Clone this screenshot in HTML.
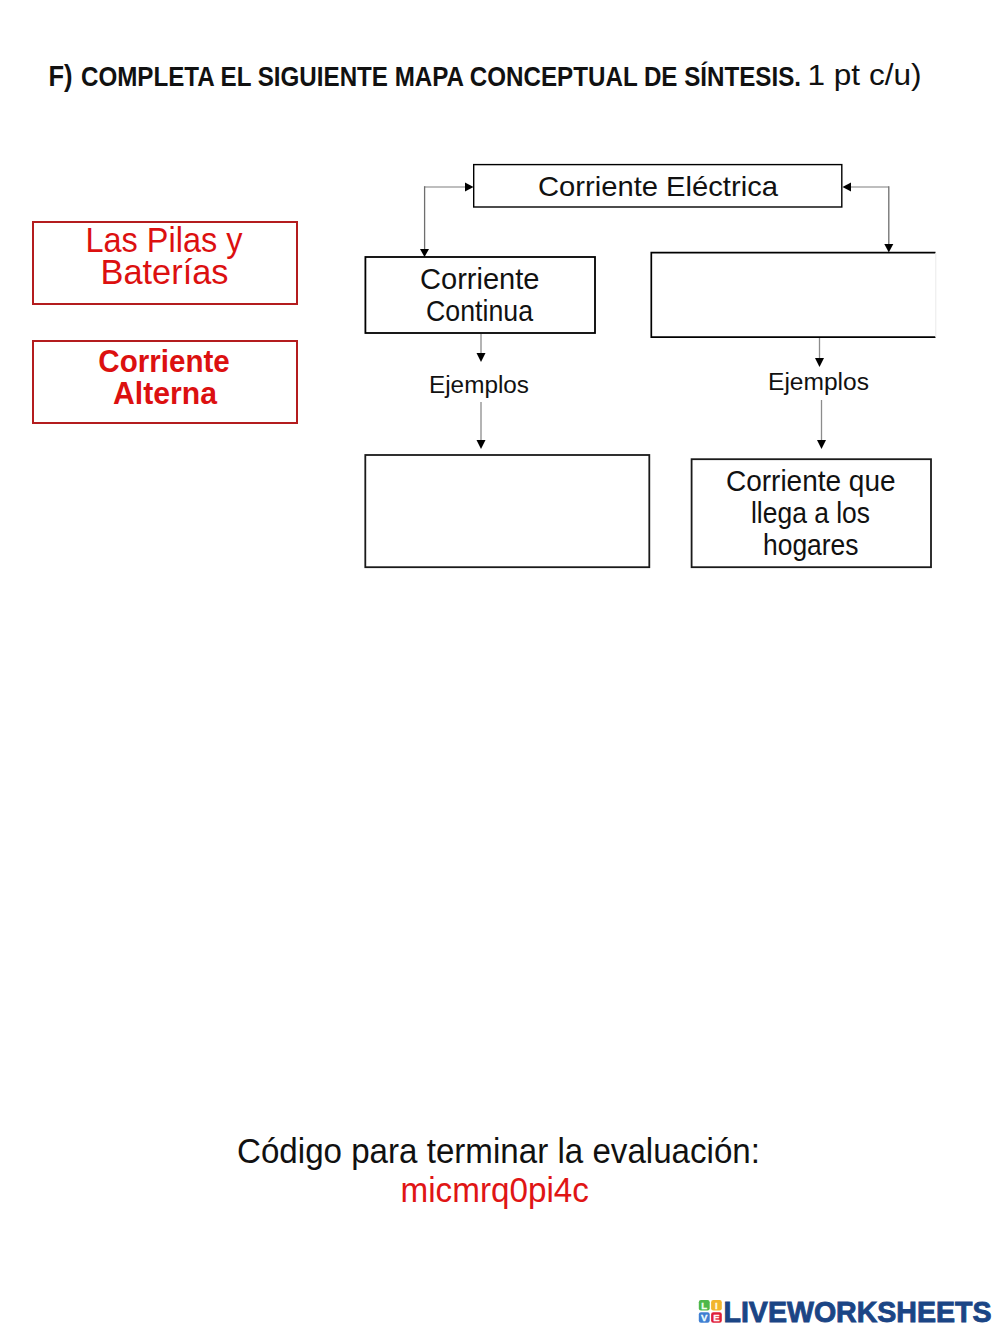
<!DOCTYPE html>
<html>
<head>
<meta charset="utf-8">
<style>
html,body{margin:0;padding:0;background:#fff;width:1000px;height:1332px;overflow:hidden;}
svg{display:block;position:absolute;left:0;top:0;}
text{font-family:"Liberation Sans",sans-serif;}
</style>
</head>
<body>
<svg width="1000" height="1332" viewBox="0 0 1000 1332">
  <!-- Title -->
  <text x="48.5" y="85.5" font-size="30" font-weight="bold" fill="#111" textLength="24" lengthAdjust="spacingAndGlyphs">F)</text>
  <text x="81" y="85.7" font-size="27.5" font-weight="bold" fill="#111" textLength="720" lengthAdjust="spacingAndGlyphs">COMPLETA EL SIGUIENTE MAPA CONCEPTUAL DE SÍNTESIS.</text>
  <text x="807.5" y="85.2" font-size="28.6" fill="#111" textLength="114" lengthAdjust="spacingAndGlyphs">1 pt c/u)</text>

  <!-- Red boxes -->
  <rect x="33" y="222" width="264" height="82" fill="none" stroke="#b41c1e" stroke-width="2"/>
  <rect x="33" y="341" width="264" height="82" fill="none" stroke="#b41c1e" stroke-width="2"/>
  <text x="85.5" y="252.4" font-size="35" fill="#dc1010" textLength="157" lengthAdjust="spacingAndGlyphs">Las Pilas y</text>
  <text x="100.5" y="284" font-size="35" fill="#dc1010" textLength="128" lengthAdjust="spacingAndGlyphs">Baterías</text>
  <text x="98.3" y="372" font-size="30.5" font-weight="bold" fill="#dc1010" textLength="131.5" lengthAdjust="spacingAndGlyphs">Corriente</text>
  <text x="113" y="403.9" font-size="30.5" font-weight="bold" fill="#dc1010" textLength="104" lengthAdjust="spacingAndGlyphs">Alterna</text>

  <!-- Diagram boxes -->
  <rect x="473.7" y="164.6" width="368.1" height="42.4" fill="none" stroke="#000" stroke-width="1.4"/>
  <rect x="365.4" y="257" width="229.6" height="76" fill="none" stroke="#000" stroke-width="1.8"/>
  <path d="M935.5 252.6 H651.3 V337.2 H935.5" fill="none" stroke="#000" stroke-width="1.7"/>
  <line x1="935.8" y1="253" x2="935.8" y2="337" stroke="#eaeaea" stroke-width="1"/>
  <rect x="365.3" y="455" width="284" height="112.2" fill="none" stroke="#1a1a1a" stroke-width="1.8"/>
  <rect x="691.6" y="459.2" width="239.4" height="108" fill="none" stroke="#1a1a1a" stroke-width="1.8"/>

  <!-- Connectors -->
  <path d="M466 187 H424.6" fill="none" stroke="#a8a8a8" stroke-width="1.6"/>
  <path d="M424.6 186.2 V250" fill="none" stroke="#6e6e6e" stroke-width="1.3"/>
  <polygon points="465,182.5 473.5,187 465,191.5" fill="#000"/>
  <polygon points="420,249 429,249 424.5,257" fill="#000"/>
  <path d="M851 187 H888.8" fill="none" stroke="#a8a8a8" stroke-width="1.6"/>
  <path d="M888.8 186.2 V244" fill="none" stroke="#6e6e6e" stroke-width="1.3"/>
  <polygon points="851,182.5 842.5,187 851,191.5" fill="#000"/>
  <polygon points="884.3,244 893.3,244 888.8,252.5" fill="#000"/>

  <line x1="481" y1="334" x2="481" y2="354" stroke="#8c8c8c" stroke-width="1.3"/>
  <polygon points="476.5,353 485.5,353 481,362" fill="#000"/>
  <line x1="481" y1="402" x2="481" y2="441" stroke="#8c8c8c" stroke-width="1.3"/>
  <polygon points="476.5,440 485.5,440 481,449" fill="#000"/>

  <line x1="819.5" y1="338" x2="819.5" y2="359" stroke="#8c8c8c" stroke-width="1.3"/>
  <polygon points="815,358 824,358 819.5,367" fill="#000"/>
  <line x1="821.5" y1="400" x2="821.5" y2="441" stroke="#8c8c8c" stroke-width="1.3"/>
  <polygon points="817,440 826,440 821.5,449" fill="#000"/>

  <!-- Diagram text -->
  <text x="538" y="195.8" font-size="28" fill="#111" textLength="240" lengthAdjust="spacingAndGlyphs">Corriente Eléctrica</text>
  <text x="420" y="288.7" font-size="28.8" fill="#111" textLength="119.5" lengthAdjust="spacingAndGlyphs">Corriente</text>
  <text x="426" y="320.9" font-size="28.8" fill="#111" textLength="107" lengthAdjust="spacingAndGlyphs">Continua</text>
  <text x="429" y="392.5" font-size="23" fill="#111" textLength="100" lengthAdjust="spacingAndGlyphs">Ejemplos</text>
  <text x="768" y="389.9" font-size="23" fill="#111" textLength="101" lengthAdjust="spacingAndGlyphs">Ejemplos</text>
  <text x="726" y="490.5" font-size="28.8" fill="#111" textLength="169.5" lengthAdjust="spacingAndGlyphs">Corriente que</text>
  <text x="751" y="522.8" font-size="28.8" fill="#111" textLength="119" lengthAdjust="spacingAndGlyphs">llega a los</text>
  <text x="763" y="555" font-size="28.8" fill="#111" textLength="95.5" lengthAdjust="spacingAndGlyphs">hogares</text>

  <!-- Bottom code -->
  <text x="237" y="1162.5" font-size="34.4" fill="#111" textLength="523" lengthAdjust="spacingAndGlyphs">Código para terminar la evaluación:</text>
  <text x="400.5" y="1201.5" font-size="34.4" fill="#e01515" textLength="188.5" lengthAdjust="spacingAndGlyphs">micmrq0pi4c</text>

  <!-- Logo -->
  <rect x="698.8" y="1300" width="10.9" height="10.5" rx="2.2" fill="#4fb84a"/>
  <rect x="711.1" y="1300" width="10.7" height="10.5" rx="2.2" fill="#f2b52e"/>
  <rect x="698.8" y="1312.2" width="10.9" height="10.5" rx="2.2" fill="#3f7fd2"/>
  <rect x="711.1" y="1312.2" width="10.7" height="10.5" rx="2.2" fill="#e01e38"/>
  <text x="704.3" y="1309.2" font-size="9.6" font-weight="bold" fill="#f4fff0" stroke="#f4fff0" stroke-width="0.3" text-anchor="middle">L</text>
  <text x="716.4" y="1309.2" font-size="9.6" font-weight="bold" fill="#fffbe8" stroke="#fffbe8" stroke-width="0.3" text-anchor="middle">I</text>
  <text x="704.3" y="1321.4" font-size="9.6" font-weight="bold" fill="#f0ffff" stroke="#f0ffff" stroke-width="0.3" text-anchor="middle">V</text>
  <text x="716.4" y="1321.4" font-size="9.6" font-weight="bold" fill="#fff4f6" stroke="#fff4f6" stroke-width="0.3" text-anchor="middle">E</text>
  <text x="723.5" y="1321.6" font-size="29.6" font-weight="bold" fill="#1b4585" stroke="#1b4585" stroke-width="0.9" textLength="268" lengthAdjust="spacingAndGlyphs">LIVEWORKSHEETS</text>
</svg>
</body>
</html>
